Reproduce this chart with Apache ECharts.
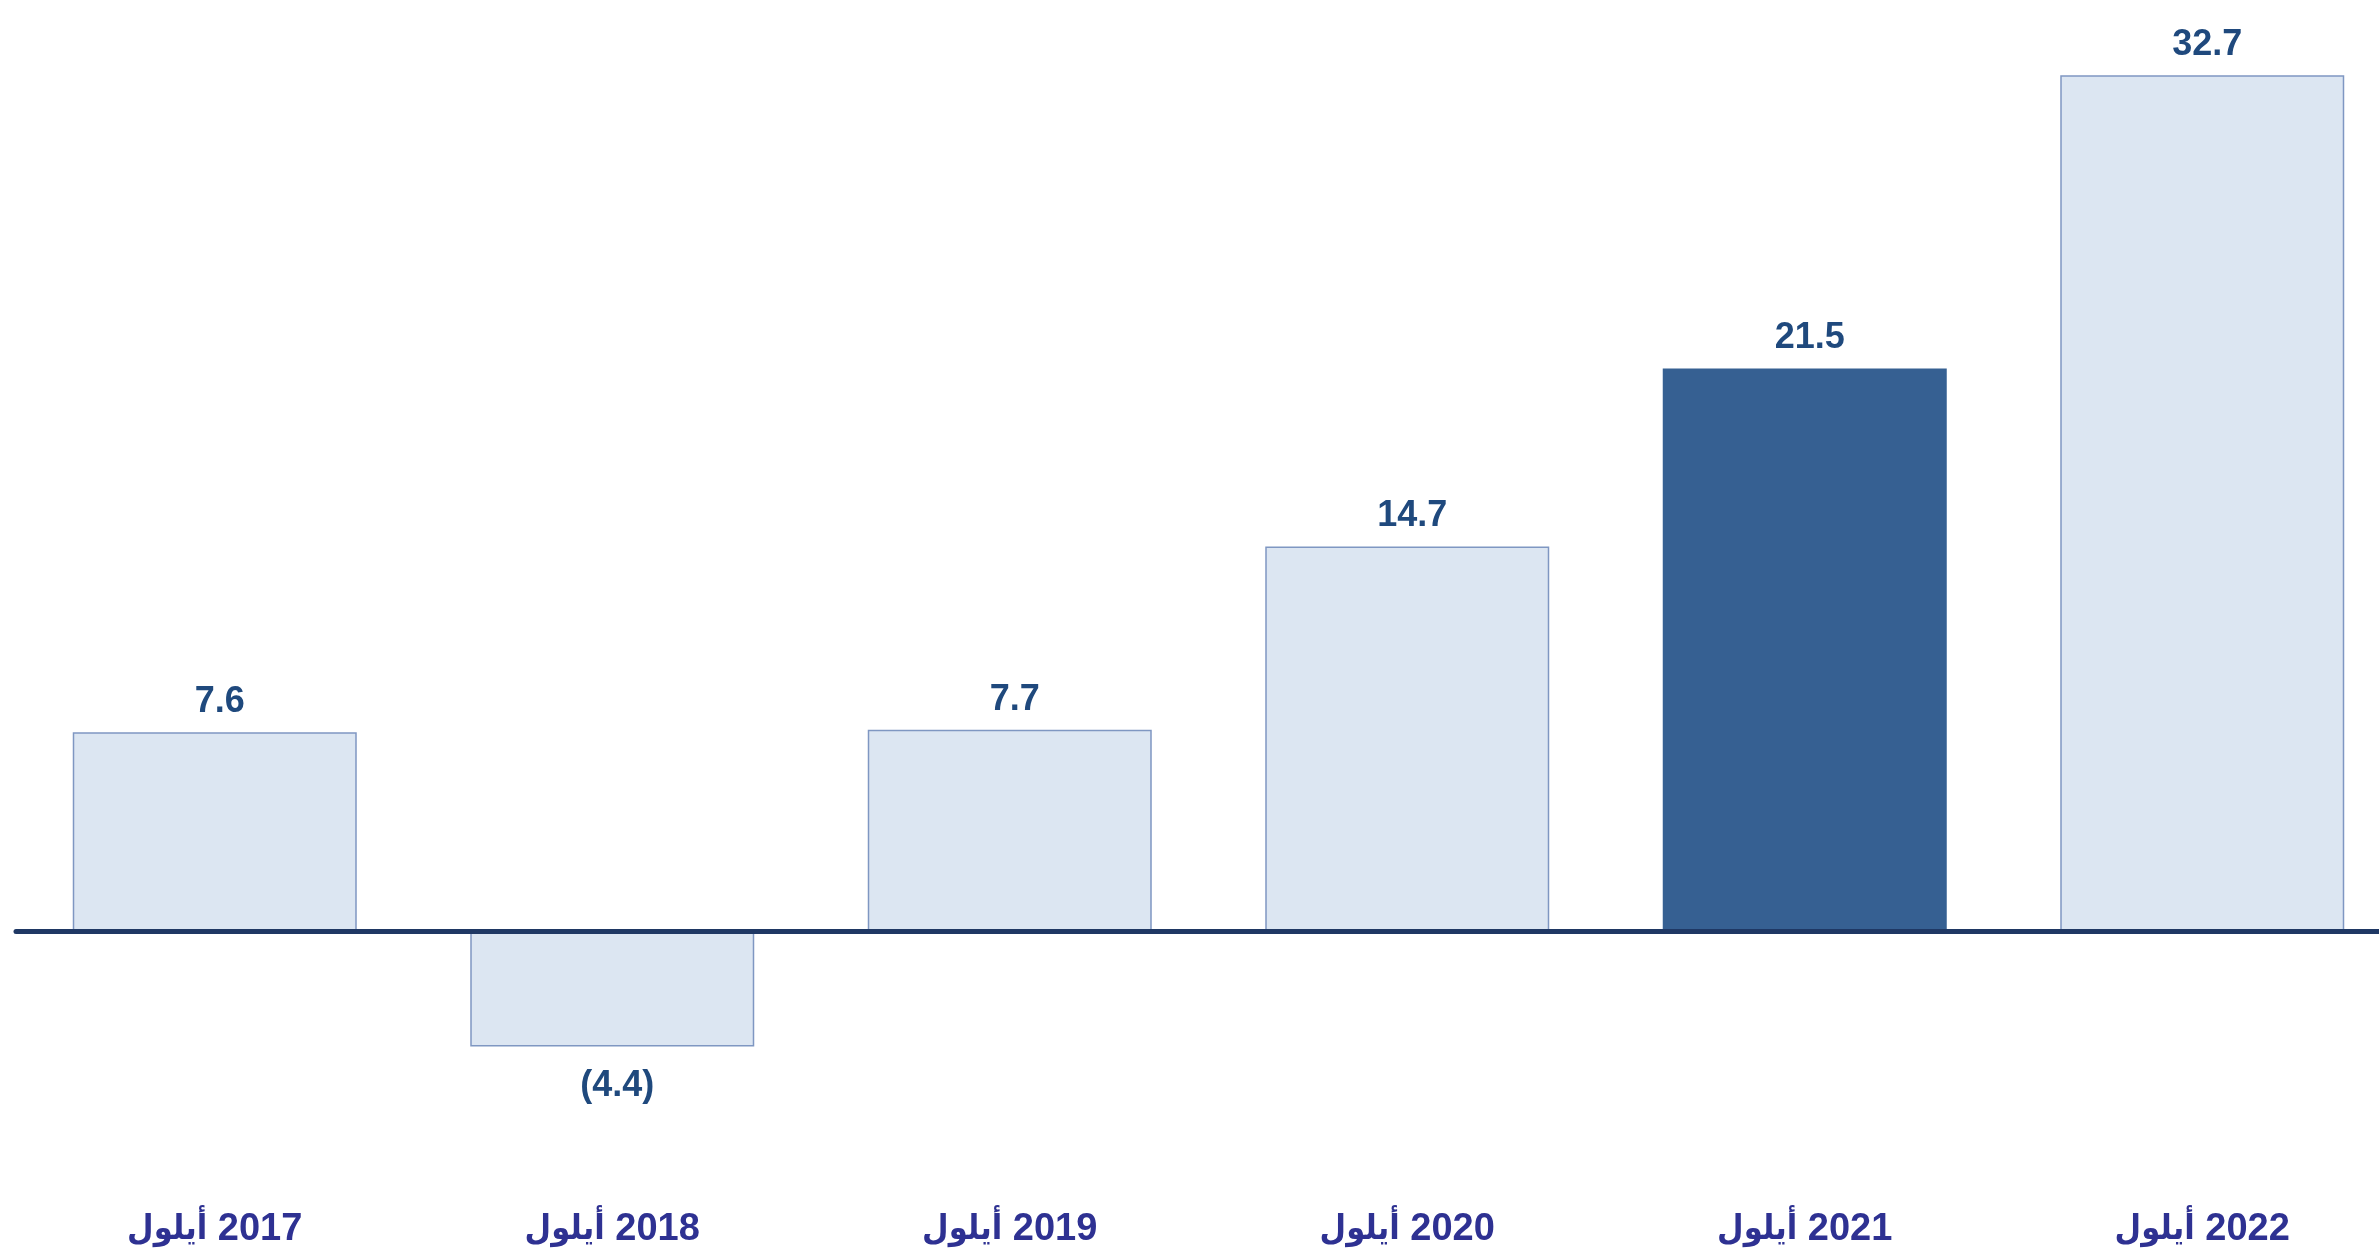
<!DOCTYPE html>
<html>
<head>
<meta charset="utf-8">
<script src="https://cdn.jsdelivr.net/npm/echarts@6/dist/echarts.min.js"></script>
<style>
  html, body { margin: 0; padding: 0; background: #fff; }
  #chart { width: 2379px; height: 1249px; }
</style>
</head>
<body>
<div id="chart"></div>
<script>
  // data
  var categories = ['أيلول 2017', 'أيلول 2018', 'أيلول 2019', 'أيلول 2020', 'أيلول 2021', 'أيلول 2022']
  var values = [7.6, -4.4, 7.7, 14.7, 21.5, 32.7]
  var highlightIndex = 4

  var lightFill = '#dce6f2'
  var lightBorder = '#7f97c2'
  var darkFill = '#366092'
  var labelColor = '#1f497d'
  var catColor = '#2e3192'
  var fontFam = '"Liberation Sans", Arial, "DejaVu Sans Condensed", "DejaVu Sans", sans-serif'

  var seriesData = values.map(function (v, i) {
    var item = { value: v }
    if (i === highlightIndex) {
      item.itemStyle = { color: darkFill, borderColor: darkFill }
    }
    if (v < 0) {
      item.label = { position: 'bottom', distance: 22 }
    }
    return item
  })

  var myChart = echarts.init(document.getElementById('chart'))
  var option = {
    backgroundColor: '#ffffff',
    animation: false,
    // the plot runs a little past the right edge in the original
    grid: { left: 16, top: 15, width: 2385, height: 1178, outerBoundsMode: 'none', containLabel: false },
    xAxis: [
      {
        // zero line
        type: 'category',
        data: categories,
        z: 10,
        axisLine: { onZero: true, lineStyle: { color: '#1f3864', width: 5 } },
        axisTick: { show: false },
        axisLabel: { show: false },
        splitLine: { show: false }
      },
      {
        // labels along the bottom
        type: 'category',
        data: categories,
        position: 'bottom',
        axisLine: { show: false, onZero: false },
        axisTick: { show: false },
        axisLabel: {
          interval: 0,
          margin: 18,
          color: catColor,
          fontSize: 38,
          fontWeight: 'bold',
          fontFamily: fontFam,
          // month on the left, year on the right, drawn as two pieces
          formatter: function (v) {
            var parts = v.split(' ')
            return '{m|' + parts[0] + '} {y|' + parts[1] + '}'
          },
          rich: {
            m: { fontSize: 34, fontWeight: 'bold', color: catColor, fontFamily: fontFam },
            y: { fontSize: 38, fontWeight: 'bold', color: catColor, fontFamily: fontFam }
          }
        },
        splitLine: { show: false }
      }
    ],
    yAxis: {
      type: 'value',
      min: -10,
      max: 35,
      show: false,
      splitLine: { show: false }
    },
    series: [
      {
        type: 'bar',
        xAxisIndex: 0,
        barWidth: 284,
        data: seriesData,
        itemStyle: { color: lightFill, borderColor: lightBorder, borderWidth: 1.5 },
        label: {
          show: true,
          position: 'top',
          distance: 12,
          offset: [5, 0],
          color: labelColor,
          fontSize: 36,
          fontWeight: 'bold',
          fontFamily: fontFam,
          formatter: function (p) {
            var v = p.value
            return v < 0 ? '(' + Math.abs(v).toFixed(1) + ')' : v.toFixed(1)
          }
        }
      }
    ]
  }
  myChart.setOption(option)
  window.addEventListener('resize', function () {
    myChart.resize()
  })
</script>
</body>
</html>
